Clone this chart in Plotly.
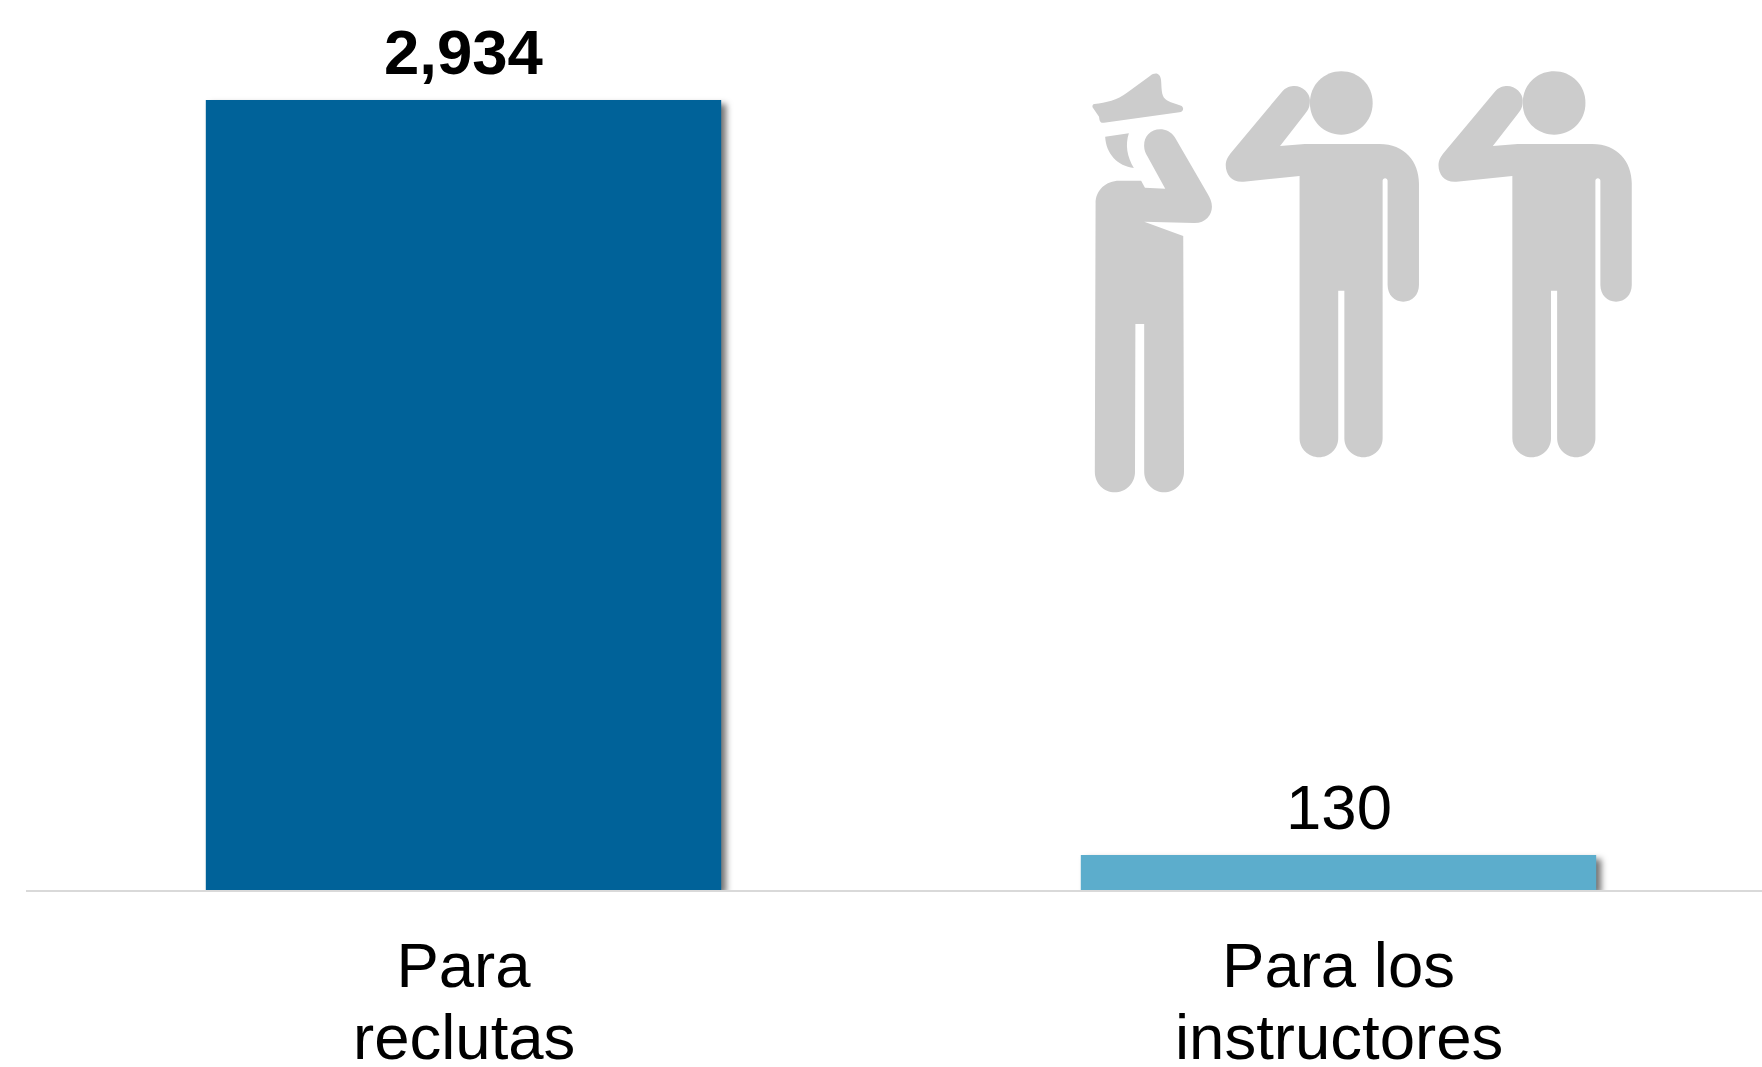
import plotly.graph_objects as go

categories = ["Para reclutas", "Para los instructores"]
label_line_1 = ["Para", "Para los"]
label_line_2 = ["reclutas", "instructores"]
values = [2934, 130]
value_labels = ["<b>2,934</b>", "130"]
bar_colors = ["#006299", "#5CADCC"]
ICON = "#CCCCCC"
FONT = "Liberation Sans, Arial, sans-serif"
FS = 63.5

W, H = 1762, 1067
L, BASE = 26, 890


def icon_path(d, dx=0.0):
    """Icon outline given in crop units -> paper coordinates."""
    out = []
    for tok in d.split():
        if tok in "MLCZ":
            out.append(tok)
            continue
        a, b = tok.split(",")
        px = 1060 + (float(a) + dx) / 2.613
        py = 50 + float(b) / 3
        out.append(f"{(px - L) / (W - L):.5f},{(BASE - py) / BASE:.5f}")
    return " ".join(out)


SALUTE = ("M 575,288 L 640,282 L 835,282 C 900,282 938,335 938,400 L 938,705 C 938,735 920,755 897,755 "
          "C 874,755 856,735 856,705 L 856,392 C 856,382 843,382 843,392 L 843,1165 C 843,1197 820,1222 793,1222 "
          "C 766,1222 743,1197 743,1165 L 743,722 L 727,722 L 727,1165 C 727,1197 704,1222 677,1222 "
          "C 650,1222 626,1197 626,1165 L 626,378 L 480,395 C 450,398 433,375 433,345 C 433,330 440,318 447,308 "
          "L 578,128 C 590,110 605,108 612,108 C 635,108 653,130 653,150 C 653,170 650,178 640,192 Z")
HEAD = ("M 653,159 C 653,104 690,64 735,64 C 780,64 817,104 817,159 C 817,214 780,254 735,254 "
        "C 690,254 653,214 653,159 Z")
HAT = ("M 90,162 C 120,158 150,150 175,128 L 235,78 C 250,65 262,70 264,90 C 266,115 264,135 275,147 "
       "C 285,158 305,162 318,168 C 325,175 322,185 312,187 L 115,218 C 105,220 103,212 102,200 L 85,172 "
       "C 84,165 86,163 90,162 Z")
FACE = "M 118,260 L 180,250 C 170,285 175,320 193,354 C 150,348 120,310 118,260 Z"
OFFICER = ("M 212,392 L 155,392 C 120,392 93,420 93,460 L 91,1265 C 91,1300 115,1327 143,1327 "
           "C 172,1327 196,1300 196,1265 L 197,822 L 220,822 L 220,1265 C 220,1300 245,1327 272,1327 "
           "C 300,1327 324,1300 324,1265 L 322,558 L 220,515 L 350,519 C 380,520 397,495 397,470 "
           "C 397,455 392,445 386,432 L 300,262 C 290,245 275,238 262,238 C 235,238 218,262 220,290 "
           "C 220,300 224,310 228,318 L 275,416 L 222,413 Z")

icons = [icon_path(p) for p in (HAT, FACE, OFFICER, SALUTE, HEAD)]
icons += [icon_path(p, 556) for p in (SALUTE, HEAD)]

fig = go.Figure(go.Bar(
    x=categories, y=values, width=0.589,
    marker=dict(color=bar_colors, line=dict(width=0)),
    cliponaxis=False, hoverinfo="skip",
))

annotations = []
for c, v, t in zip(categories, values, value_labels):
    annotations.append(dict(x=c, y=v, xref="x", yref="y", text=t, showarrow=False,
                            yanchor="bottom", yshift=11,
                            font=dict(family=FONT, size=FS, color="#000000")))
for c, t in zip(categories, label_line_2):
    annotations.append(dict(x=c, y=0, xref="x", yref="y", text=t, showarrow=False,
                            yanchor="top", yshift=-110,
                            font=dict(family=FONT, size=FS, color="#000000")))

fig.update_layout(
    width=W, height=H, autosize=False,
    margin=dict(l=L, r=0, t=0, b=H - BASE, pad=0),
    paper_bgcolor="#FFFFFF", plot_bgcolor="#FFFFFF",
    showlegend=False, annotations=annotations,
    shapes=[dict(type="path", path=p, xref="paper", yref="paper", fillcolor=ICON,
                 line=dict(width=0), layer="below") for p in icons],
    xaxis=dict(type="category", categoryorder="array", categoryarray=categories,
               range=[-0.5, 1.484], tickmode="array", tickvals=categories, ticktext=label_line_1,
               showgrid=False, zeroline=False, showline=True, linecolor="#D9D9D9", linewidth=2,
               ticks="", ticklabelstandoff=19, automargin=False,
               tickfont=dict(family=FONT, size=FS, color="#000000")),
    yaxis=dict(range=[0, 890 * 2934 / 790], visible=False, fixedrange=True),
)

post = """
document.documentElement.style.overflow='hidden';
document.body.style.margin='0';
document.body.style.overflow='hidden';
document.querySelectorAll('.barlayer .point path').forEach(function(p){
  p.style.filter='drop-shadow(5px 4px 3px rgba(0,0,0,0.55))';
});
"""
fig.write_html("out.html", post_script=post, config=dict(displayModeBar=False))
